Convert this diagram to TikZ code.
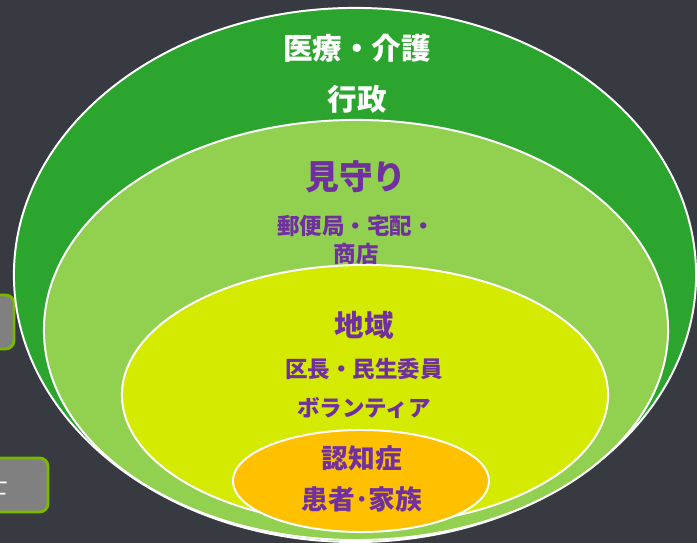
\documentclass[tikz,border=0pt]{standalone}
\usepackage{fontspec}
\usepackage{xcolor}
\usetikzlibrary{shapes.geometric, positioning}
\newfontfamily\jpfont{Noto Sans CJK JP}

\definecolor{bgdark}{RGB}{55,58,64}
\definecolor{outergreen}{RGB}{43,165,46}
\definecolor{lightgreen}{RGB}{146,208,80}
\definecolor{lime}{RGB}{212,234,0}
\definecolor{amber}{RGB}{255,192,0}
\definecolor{violet}{RGB}{112,48,160}
\definecolor{boxgray}{RGB}{128,128,128}
\definecolor{boxedge}{RGB}{122,184,0}

\begin{document}
\begin{tikzpicture}[
    x=0.025cm, y=0.025cm,
    every node/.style={align=center, font=\jpfont\bfseries},
    ring/.style={ellipse, draw=white, line width=1.4pt, inner sep=0pt},
    whitetext/.style={text=white, font=\jpfont\bfseries\fontsize{21}{25}\selectfont},
    titletext/.style={text=violet, font=\jpfont\bfseries\fontsize{21}{25}\selectfont},
    smalltext/.style={text=violet, font=\jpfont\bfseries\fontsize{16}{20}\selectfont},
    sidebox/.style={rectangle, rounded corners=6pt, fill=boxgray, draw=boxedge, line width=2pt}
]

% Background
\fill[bgdark] (0,0) rectangle (697,543);
\useasboundingbox (0,0) rectangle (697,543);
\clip (0,0) rectangle (697,543);

% Side boxes (cut off at the left edge)
\node (box_upper) [sidebox, minimum width=1.05cm, minimum height=1.35cm] at (-7,221) {};
\node (box_lower) [sidebox, minimum width=2.05cm, minimum height=1.35cm] at (7,58) {};
\node (box_lower_text) [text=white, font=\jpfont\fontsize{17}{20}\selectfont, anchor=east] at (13,58) {士};

% Rings
\node (care) [ring, fill=outergreen, minimum width=17.05cm, minimum height=13.35cm] at (355,268) {};
\node (watch) [ring, fill=lightgreen, minimum width=15.6cm, minimum height=10.5cm] at (356,213) {};
\node (local) [ring, fill=lime, minimum width=12.15cm, minimum height=6.5cm] at (365,148) {};
\node (core) [ring, fill=amber, minimum width=6.4cm, minimum height=2.55cm] at (361,62) {};

% Outer ring labels
\node (care_title) [whitetext] at (357,495) {医療・介護};
\node (care_sub) [whitetext, below=0.33cm of care_title] {行政};

% Watch ring labels
\node (watch_title) [titletext, font=\jpfont\bfseries\fontsize{24}{28}\selectfont] at (356,366) {見守り};
\node (watch_sub) [smalltext, below=0.3cm of watch_title] {郵便局・宅配・\\商店};

% Local ring labels
\node (local_title) [titletext] at (364,218) {地域};
\node (local_sub1) [smalltext, below=0.22cm of local_title] {区長・民生委員};
\node (local_sub2) [smalltext, below=0.2cm of local_sub1] {ボランティア};

% Core labels
\node (core_title) [titletext, font=\jpfont\bfseries\fontsize{19}{23}\selectfont] at (362,85) {認知症};
\node (core_sub) [titletext, font=\jpfont\bfseries\fontsize{19}{23}\selectfont, below=0.15cm of core_title] {患者･家族};

\end{tikzpicture}
\end{document}
